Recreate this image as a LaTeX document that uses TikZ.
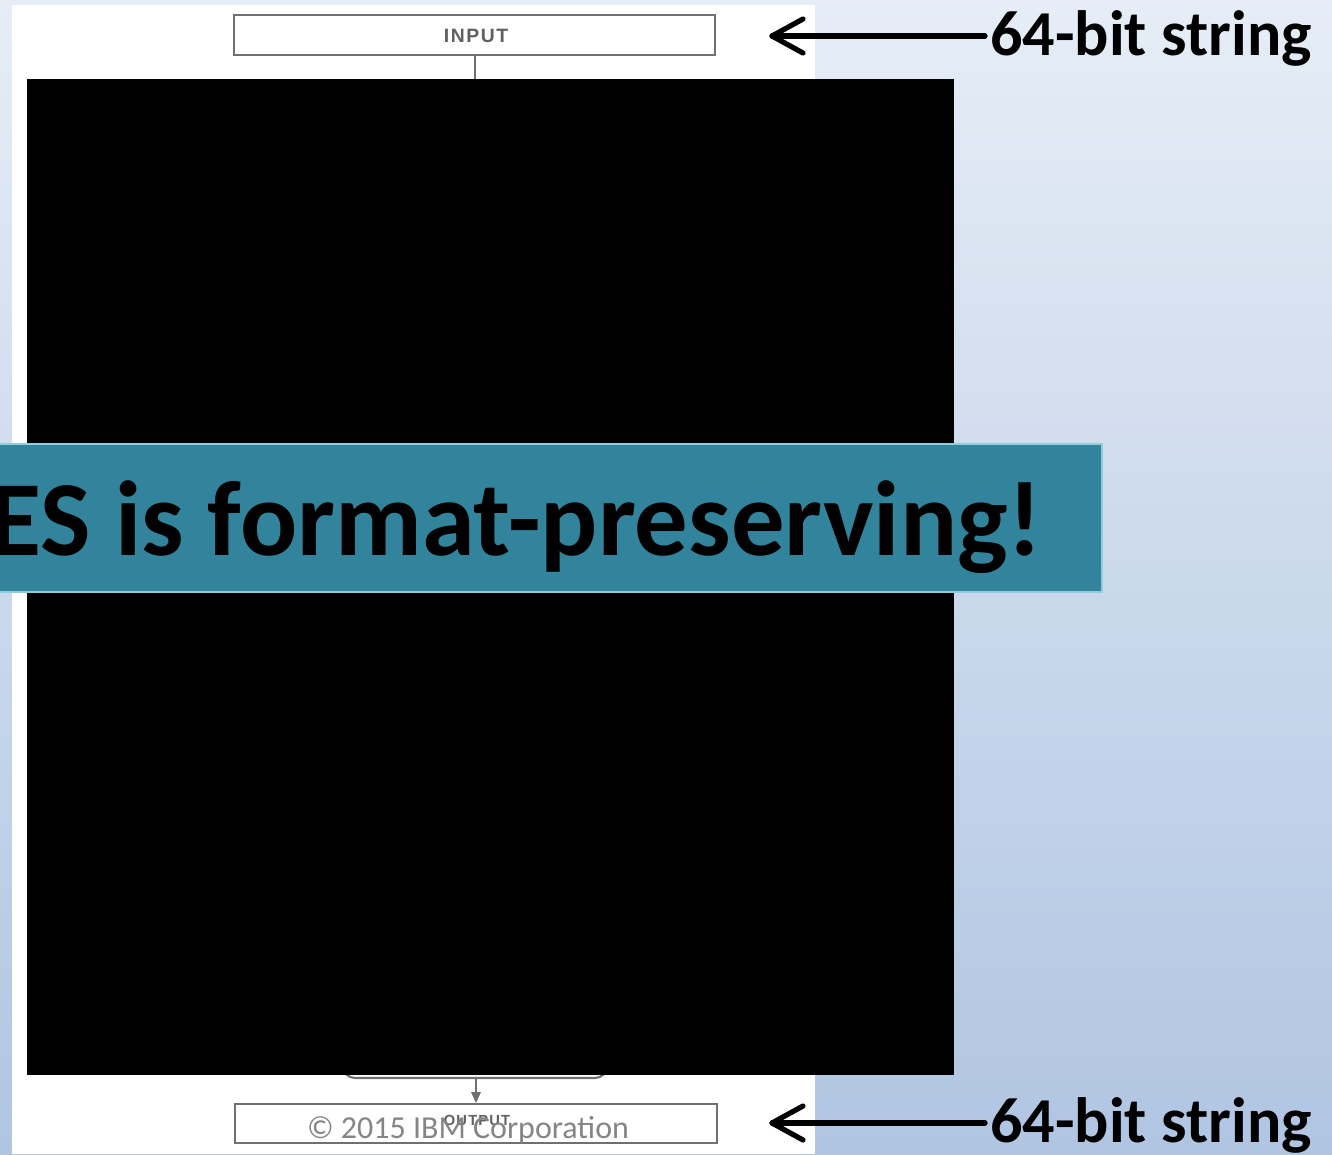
\documentclass[tikz,border=0pt]{standalone}
\usepackage{fontspec}
\usetikzlibrary{calc}
\setmainfont{Carlito}
\newfontfamily\helvb[LetterSpace=8]{Liberation Sans}
\definecolor{bgtop}{HTML}{E6EDF6}
\definecolor{bgbot}{HTML}{B0C5E2}
\definecolor{teal}{HTML}{31849B}
\definecolor{tealedge}{HTML}{92CDDC}
\definecolor{boxgray}{HTML}{707070}
\definecolor{labgray}{HTML}{606060}
\definecolor{copygray}{HTML}{858585}
\begin{document}
\begin{tikzpicture}[x=0.75pt,y=-0.75pt,
  flowbox/.style={draw=boxgray, line width=1.6pt, fill=white},
  boxlabel/.style={text=labgray, font=\helvb\bfseries\fontsize{14.5}{15}\selectfont, inner sep=0pt},
  biglabel/.style={font=\bfseries\fontsize{48}{50}\selectfont, inner sep=0pt, anchor=base west},
  bigarrow/.style={line width=3.9pt, line cap=round, line join=round},
  thinline/.style={draw=boxgray, line width=1.6pt}
]
\useasboundingbox (0,0) rectangle (1332,1154);
% background
\fill[top color=bgtop, bottom color=bgbot] (0,0) rectangle (1332,1154);
\fill[white] (12,5) rectangle (815,1154);
% input / output boxes
\draw[flowbox] (234,15) rectangle (715,55);
\node[boxlabel] (inlbl) at (476,36) {INPUT};
\coordinate (inbot) at (475,55);
\coordinate (indown) at (475,85);
\draw[thinline] (inbot) -- (indown);
% partially hidden rounded block above output
\draw[flowbox, rounded corners=9] (343,1040) rectangle (607,1078);
\coordinate (blkbot) at (476,1078);
\draw[flowbox] (235,1104) rectangle (717,1143);
\coordinate (outtop) at (476,1104);
\draw[thinline] (blkbot) -- (476,1094);
\fill[boxgray] (471,1092) -- (481,1092) -- (476,1103) -- cycle;
\node[boxlabel, font=\helvb\bfseries\fontsize{11}{12}\selectfont] (outlbl) at (477,1120) {OUTPUT};
% black cover
\fill[black] (27,79) rectangle (954,1075);
% banner
\begin{scope}
  \clip (0,444) rectangle (1102,592);
  \fill[teal] (0,444) rectangle (1102,592);
  \node[font=\bfseries\fontsize{80}{84}\selectfont, inner sep=0pt, anchor=base east] (banner) at (1043,555) {DES is format-preserving!};
\end{scope}
\draw[tealedge, line width=1.5pt] (0,444) -- (1102,444) -- (1102,592) -- (0,592);
% copyright
\node[text=copygray, font=\fontsize{24}{26}\selectfont, inner sep=0pt, anchor=base] (copy) at (468,1138) {© 2015 IBM Corporation};
% right labels and arrows
\node[biglabel] (toplbl) at (990,55) {64-bit string};
\node[biglabel] (botlbl) at (990,1142) {64-bit string};
\coordinate (toptip) at (772,36);
\coordinate (bottip) at (772,1123);
\draw[bigarrow] ($(toplbl.west |- toptip)+(-5,0)$) -- (toptip);
\draw[bigarrow] ($(toptip)+(31,-17)$) -- (toptip) -- ($(toptip)+(31,17)$);
\draw[bigarrow] ($(botlbl.west |- bottip)+(-5,0)$) -- (bottip);
\draw[bigarrow] ($(bottip)+(31,-17)$) -- (bottip) -- ($(bottip)+(31,17)$);
\end{tikzpicture}
\end{document}
